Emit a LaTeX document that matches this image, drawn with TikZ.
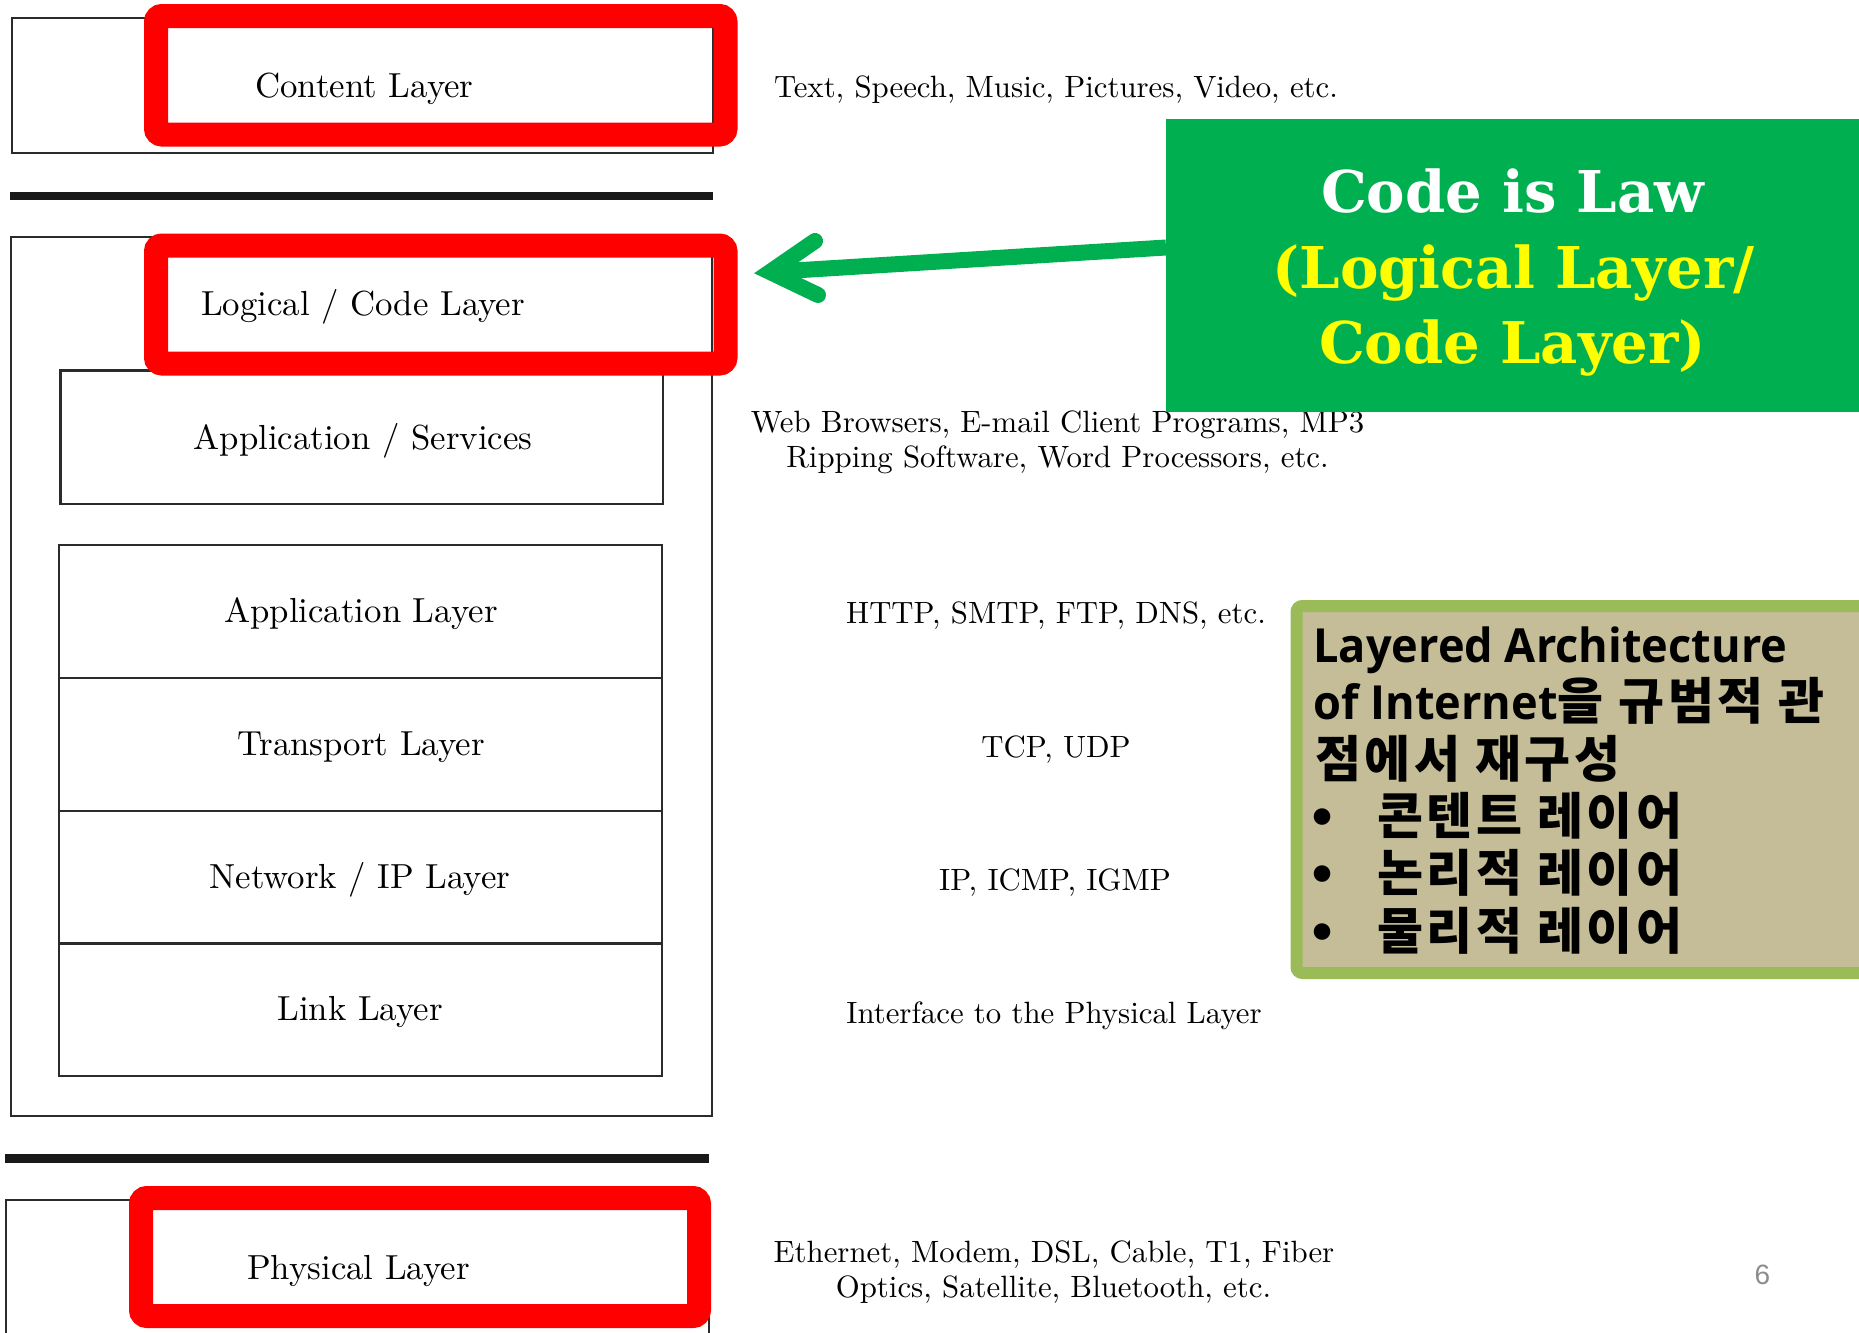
\documentclass[tikz,border=0pt]{standalone}
\usepackage{fontspec}
\newfontfamily\lmten{lmroman10-regular.otf}
\newfontfamily\slabfont{DejaVu Serif}
\newfontfamily\kofont{Noto Sans CJK KR}[LetterSpace=7]
\newfontfamily\notelatin{Open Sans}[FakeStretch=0.96]
\newfontfamily\bulletfont{DejaVu Sans}
\newfontfamily\pagefont{Liberation Sans}
\usetikzlibrary{calc}
\definecolor{hlred}{HTML}{FF0000}
\definecolor{lawgreen}{HTML}{00B050}
\definecolor{lawyellow}{HTML}{FFFF00}
\definecolor{notefill}{HTML}{C4BD97}
\definecolor{noteedge}{HTML}{9BBB59}
\definecolor{boxline}{HTML}{2B2B2B}
\definecolor{pagegray}{HTML}{8C8C8C}
\tikzset{
  layerbox/.style={draw=boxline, line width=1.3pt},
  sepline/.style={draw=black!90, line width=4.25pt},
  hlbox/.style={draw=hlred, line width=12pt, rounded corners=3pt, inner sep=0pt, outer sep=0pt},
  layerlabel/.style={anchor=base, inner sep=0pt, font=\lmten\fontsize{17.4pt}{20pt}\selectfont},
  example/.style={anchor=base, inner sep=0pt, font=\lmten\fontsize{15.4pt}{18pt}\selectfont},
  lawtext/.style={anchor=base, inner sep=0pt, font=\slabfont\bfseries\fontsize{28.8pt}{36pt}\selectfont},
  notetext/.style={anchor=base west, inner sep=0pt, font=\kofont\bfseries\fontsize{25pt}{28pt}\selectfont},
  notebullet/.style={anchor=base, inner sep=0pt, font=\bulletfont\bfseries\fontsize{23.5pt}{28pt}\selectfont},
  lawarrow/.style={draw=lawgreen, line width=8pt},
}
\newcommand{\lat}[1]{{\notelatin\bfseries\fontsize{23.5pt}{28pt}\selectfont #1}}
\begin{document}
\begin{tikzpicture}[x=0.5pt,y=-0.5pt]
  \fill[white] (0,0) rectangle (1859,1333);
  \useasboundingbox (0,0) rectangle (1859,1333);

  % layer frames
  \draw[layerbox] (12,18) rectangle (713,153);
  \draw[sepline] (10,196) -- (713,196);
  \draw[layerbox] (11,237) rectangle (712,1116);
  \draw[layerbox] (60.5,370.5) rectangle (663,504);
  \draw[layerbox] (59,545) rectangle (662,1076);
  \draw[layerbox] (59,678) -- (662,678);
  \draw[layerbox] (59,811) -- (662,811);
  \draw[layerbox] (59,943.5) -- (662,943.5);
  \draw[sepline] (5,1158.5) -- (709,1158.5);
  \draw[layerbox] (6,1340) -- (6,1200) -- (709,1200) -- (709,1340);

  % layer names
  \node[layerlabel] (content) at (364.5,97) {Content Layer};
  \node[layerlabel] (logical) at (363,315) {Logical / Code Layer};
  \node[layerlabel] (appsvc) at (363,449) {Application / Services};
  \node[layerlabel] (applayer) at (361,622) {Application Layer};
  \node[layerlabel] (transport) at (361,755) {Transport Layer};
  \node[layerlabel] (network) at (360,888) {Network / IP Layer};
  \node[layerlabel] (link) at (360,1020.5) {Link Layer};
  \node[layerlabel] (physical) at (358.5,1279) {Physical Layer};

  % red highlights
  \node[hlbox, minimum width=284.75pt, minimum height=59.25pt] (hlcontent) at (440.75,75.25) {};
  \node[hlbox, minimum width=284.75pt, minimum height=59pt] (hllogical) at (440.75,304.5) {};
  \node[hlbox, minimum width=279pt, minimum height=59pt] (hlphysical) at (420,1257) {};

  % examples for each layer
  \node[example] (exContent) at (1056,97) {Text, Speech, Music, Pictures, Video, etc.};
  \node[example] (exApp1) at (1057.5,432) {Web Browsers, E-mail Client Programs, MP3};
  \node[example] (exApp2) at (1057.5,467) {Ripping Software, Word Processors, etc.};
  \node[example] (exHttp) at (1056,623) {HTTP, SMTP, FTP, DNS, etc.};
  \node[example] (exTcp) at (1056,757) {TCP, UDP};
  \node[example] (exIp) at (1055,890) {IP, ICMP, IGMP};
  \node[example] (exLink) at (1054,1023) {Interface to the Physical Layer};
  \node[example] (exPhys1) at (1054,1262) {Ethernet, Modem, DSL, Cable, T1, Fiber};
  \node[example] (exPhys2) at (1053.5,1297) {Optics, Satellite, Bluetooth, etc.};

  % "Code is Law" callout
  \node[fill=lawgreen, minimum width=346.5pt, minimum height=146.5pt, inner sep=0pt, outer sep=0pt] (codebox) at (1512.5,265.5) {};
  \node[lawtext, text=white] (law1) at (1512.5,212) {Code is Law};
  \node[lawtext, text=lawyellow] (law2) at (1513.5,288) {(Logical Layer/};
  \node[lawtext, text=lawyellow] (law3) at (1512.5,363) {Code Layer)};

  \coordinate (arrowtail) at (codebox.west |- 0,247.5);
  \coordinate (arrowtip) at ($(hllogical.east)+(44.5,-32.5)$);
  \draw[lawarrow] (arrowtail) -- (arrowtip);
  \draw[lawarrow, line join=miter, line cap=round] ($(arrowtip)+(45,-31)$) -- (arrowtip) -- ($(arrowtip)+(48,23)$);

  % note box
  \node[draw=noteedge, fill=notefill, line width=6pt, rounded corners=3pt, minimum width=291.75pt, minimum height=183.5pt, inner sep=0pt, outer sep=0pt] (notebox) at (1588.25,789.5) {};
  \node[notetext] (note1) at (1313,662) {\lat{Layered Architecture}};
  \node[notetext] (note2) at (1313,719.5) {\lat{of Internet}을 규범적 관};
  \node[notetext] (note3) at (1315,777) {점에서 재구성};
  \node[notebullet] (bul1) at (1323,834) {•};
  \node[notebullet] (bul2) at (1323,891.5) {•};
  \node[notebullet] (bul3) at (1323,949) {•};
  \node[notetext] (note4) at (1377,834) {콘텐트 레이어};
  \node[notetext] (note5) at (1377,891.5) {논리적 레이어};
  \node[notetext] (note6) at (1377,949) {물리적 레이어};

  % slide number
  \node[font=\pagefont\fontsize{14pt}{16pt}\selectfont, text=pagegray, inner sep=0pt] (pagenum) at (1762.5,1275) {6};
\end{tikzpicture}
\end{document}
